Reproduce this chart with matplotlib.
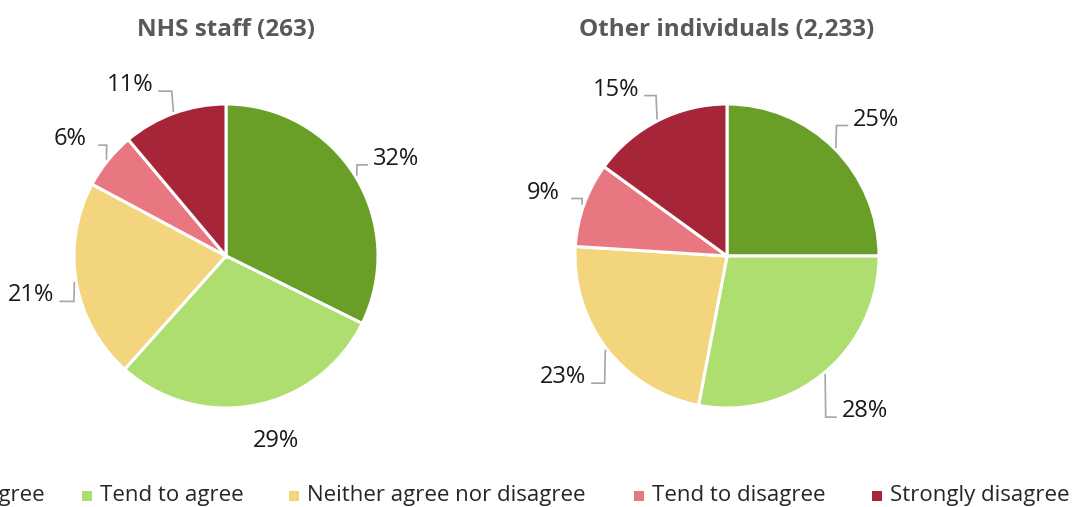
import numpy as np
import matplotlib
matplotlib.use("Agg")
import matplotlib.pyplot as plt
from matplotlib.patches import Rectangle

categories = ["Strongly agree", "Tend to agree", "Neither agree nor disagree",
              "Tend to disagree", "Strongly disagree"]
nhs_values = [32, 29, 21, 6, 11]
other_values = [25, 28, 23, 9, 15]
titles = ["NHS staff (263)", "Other individuals (2,233)"]
colors = ["#699F27", "#AEDD70", "#F3D57D", "#E97782", "#A72538"]

plt.rcParams['font.family'] = ['Open Sans', 'DejaVu Sans']

W, H = 1078, 507
fig = plt.figure(figsize=(W / 100, H / 100), dpi=100)
ax = fig.add_axes([0, 0, 1, 1])

centers = [(226, 256), (727, 256)]
radius = 152
label_offsets = [
    [(41, -17, True), (21, 36, False), (-45, 13, True), (-38, -21, True), (-44, -28, True)],
    [(42, -29, True), (41, 38, True), (-44, 28, True), (-41, -12, True), (-42, -31, True)],
]

for i, vals in enumerate([nhs_values, other_values]):
    cx, cy = centers[i]
    wedges, _ = ax.pie(vals, colors=colors, startangle=-90, counterclock=True,
                       center=(cx, cy), radius=radius, frame=True,
                       wedgeprops=dict(edgecolor='white', linewidth=2.2))
    total = sum(vals)
    cum = 0
    for j, v in enumerate(vals):
        mid = 90 - (cum + v / 2) / total * 360
        cum += v
        a = np.deg2rad(mid)
        ex, ey = cx + radius * np.cos(a), cy - radius * np.sin(a)
        dx, dy, lead = label_offsets[i][j]
        lx, ly = ex + dx, ey + dy
        ax.text(lx, ly, f"{v}%", ha='center', va='center', fontsize=17,
                color='#1a1a1a')
        if lead:
            side = -1 if dx > 0 else 1
            hx = lx + side * 29
            ax.plot([ex + 2 * np.cos(a), ex + 0.15 * (hx - ex), hx],
                    [ey - 2 * np.sin(a), ly + 6, ly + 6],
                    color='#a6a6a6', lw=1.2, solid_joinstyle='miter')
    ax.text(cx, 30, titles[i], ha='center', va='center', fontsize=17.5,
            fontweight='bold', color='#595959')

ax.set_xlim(0, W)
ax.set_ylim(H, 0)
ax.set_aspect('auto')
ax.axis('off')

# manual legend (first entry is partly cut off by the left edge, as in the reference)
leg_y = 495
text_x = [None, 100, 307, 652, 890]
renderer = fig.canvas.get_renderer()
for k, (lab, col) in enumerate(zip(categories, colors)):
    if text_x[k] is None:
        t = ax.text(45, leg_y, lab, ha='right', va='center', fontsize=16,
                    color='#262626')
        bb = t.get_window_extent(renderer=renderer)
        tx = bb.x0
    else:
        ax.text(text_x[k], leg_y, lab, ha='left', va='center', fontsize=16,
                color='#262626')
        tx = text_x[k]
    ax.add_patch(Rectangle((tx - 18, leg_y - 4), 10, 10, facecolor=col,
                           edgecolor='none', clip_on=False))

fig.savefig("out.png", dpi=100)
